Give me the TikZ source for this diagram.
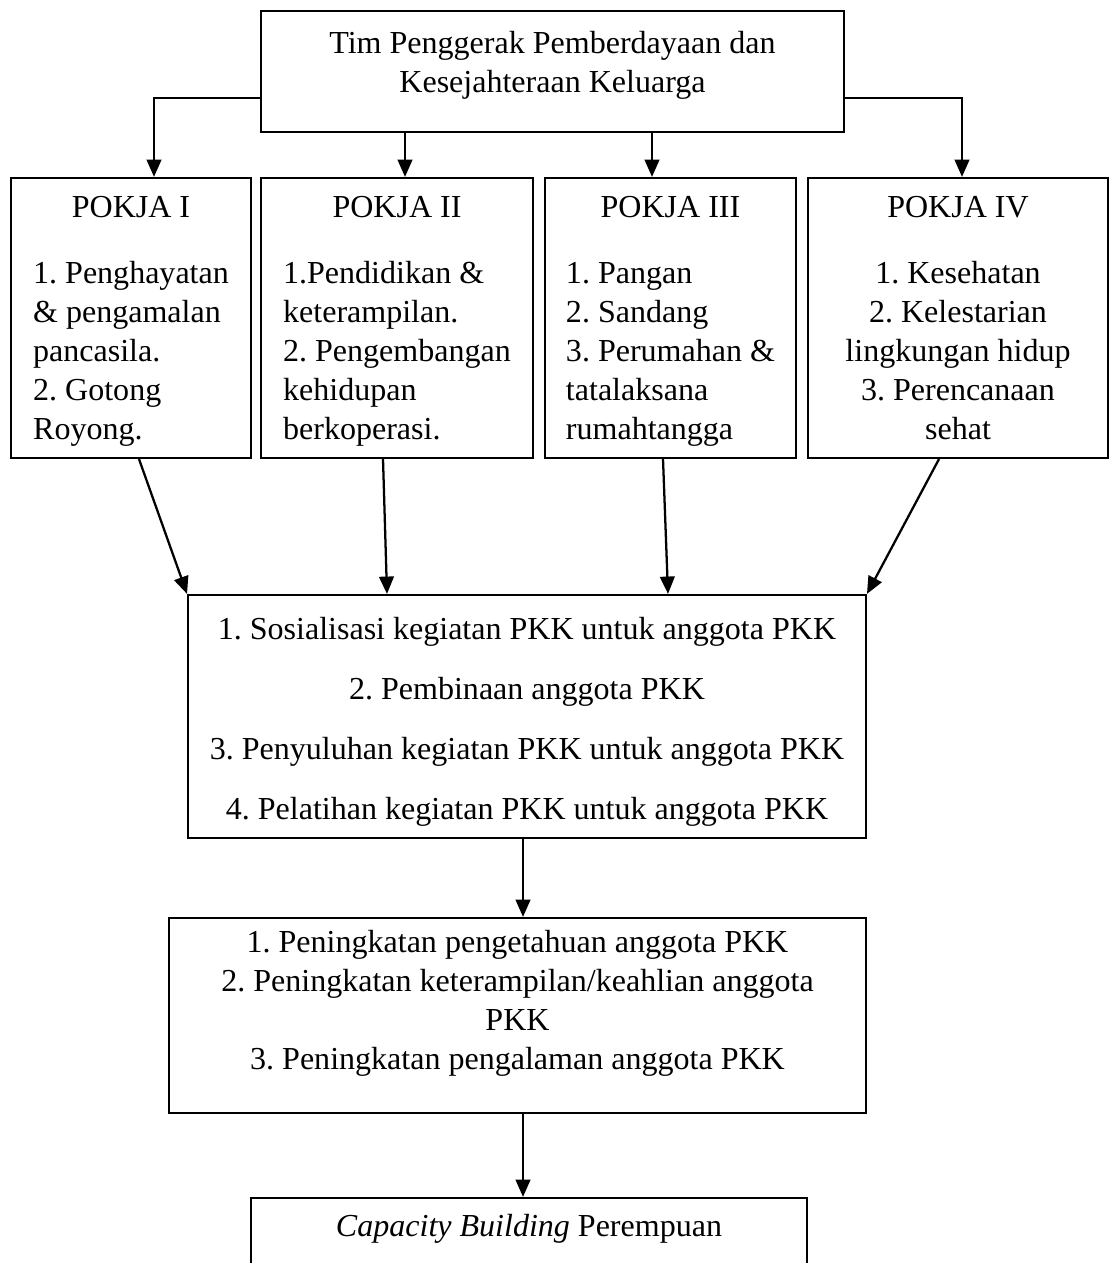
\documentclass[tikz,border=0pt]{standalone}
\usepackage{fontspec}
\setmainfont{Liberation Serif}
\usetikzlibrary{arrows.meta}
\newcommand{\upx}{0.3745pt}
\frenchspacing

\begin{document}
\begin{tikzpicture}[x=0.013164cm,y=-0.013164cm,
  box/.style={draw,line width=0.85pt,inner sep=2pt,font=\fontsize{12}{14.6}\selectfont},
  arr/.style={line width=0.85pt,-{Triangle[length=6.5pt,width=5.5pt]}}]
\useasboundingbox (0,0) rectangle (1110,1263);
\clip (0,0) rectangle (1110,1263);

% ketua
\node (tim) at (552.5,71.5) [box,minimum width=583*\upx,minimum height=121*\upx]
  {\begin{tabular}{@{}c@{}}Tim Penggerak Pemberdayaan dan\\ Kesejahteraan Keluarga\\[4.5pt]\end{tabular}};

% pokja
\node (pokja1) at (131,318) [box,minimum width=240*\upx,minimum height=280*\upx]
  {\begin{tabular}{@{}l@{}}\multicolumn{1}{@{}c@{}}{POKJA I}\\[10pt]
  1. Penghayatan\\ \& pengamalan\\ pancasila.\\ 2. Gotong\\ Royong.\\[-1.9pt]\end{tabular}};
\node (pokja2) at (397,318) [box,minimum width=272*\upx,minimum height=280*\upx]
  {\begin{tabular}{@{}l@{}}\multicolumn{1}{@{}c@{}}{POKJA II}\\[10pt]
  1.Pendidikan \&\\ keterampilan.\\ 2. Pengembangan\\ kehidupan\\ berkoperasi.\\[-1.9pt]\end{tabular}};
\node (pokja3) at (670.5,318) [box,minimum width=251*\upx,minimum height=280*\upx]
  {\begin{tabular}{@{}l@{}}\multicolumn{1}{@{}c@{}}{POKJA III}\\[10pt]
  1. Pangan\\ 2. Sandang\\ 3. Perumahan \&\\ tatalaksana\\ rumahtangga\\[-1.9pt]\end{tabular}};
\node (pokja4) at (958,318) [box,minimum width=300*\upx,minimum height=280*\upx]
  {\begin{tabular}{@{}c@{}}POKJA IV\\[10pt]
  1. Kesehatan\\ 2. Kelestarian\\ lingkungan hidup\\ 3. Perencanaan\\ sehat\\[-1.9pt]\end{tabular}};

% kegiatan
\node (kegiatan) at (527,716.5) [box,minimum width=678*\upx,minimum height=243*\upx]
  {\begin{tabular}{@{}c@{}}1. Sosialisasi kegiatan PKK untuk anggota PKK\\[7.9pt]
  2. Pembinaan anggota PKK\\[7.9pt]
  3. Penyuluhan kegiatan PKK untuk anggota PKK\\[7.9pt]
  4. Pelatihan kegiatan PKK untuk anggota PKK\\[-3.8pt]\end{tabular}};

\node (peningkatan) at (517.5,1015.5) [box,minimum width=697*\upx,minimum height=195*\upx]
  {\begin{tabular}{@{}c@{}}1. Peningkatan pengetahuan anggota PKK\\
  2. Peningkatan keterampilan/keahlian anggota\\ PKK\\
  3. Peningkatan pengalaman anggota PKK\\[9.4pt]\end{tabular}};

\node (hasil) at (529,1278) [box,minimum width=556*\upx,minimum height=160*\upx]
  {\begin{tabular}{@{}c@{}}\textit{Capacity Building} Perempuan\\[36.6pt]\end{tabular}};

% panah dari ketua
\coordinate (l1) at (154,98);
\coordinate (r4) at (962,98);
\coordinate (a2) at (405,0);
\coordinate (a3) at (652,0);
\draw[arr] (tim.west |- l1) -- (l1) -- (pokja1.north -| l1);
\draw[arr] (tim.south -| a2) -- (pokja2.north -| a2);
\draw[arr] (tim.south -| a3) -- (pokja3.north -| a3);
\draw[arr] (tim.east |- r4) -- (r4) -- (pokja4.north -| r4);

% panah ke kegiatan
\coordinate (b1) at (139,0);
\coordinate (b2) at (383,0);
\coordinate (b3) at (663,0);
\coordinate (b4) at (939,0);
\coordinate (c2) at (387,0);
\coordinate (c3) at (668,0);
\draw[arr] (pokja1.south -| b1) -- (kegiatan.north west);
\draw[arr] (pokja2.south -| b2) -- (kegiatan.north -| c2);
\draw[arr] (pokja3.south -| b3) -- (kegiatan.north -| c3);
\draw[arr] (pokja4.south -| b4) -- (kegiatan.north east);

% panah ke bawah
\coordinate (s) at (523,0);
\draw[arr] (kegiatan.south -| s) -- (peningkatan.north -| s);
\draw[arr] (peningkatan.south -| s) -- (hasil.north -| s);
\end{tikzpicture}
\end{document}
